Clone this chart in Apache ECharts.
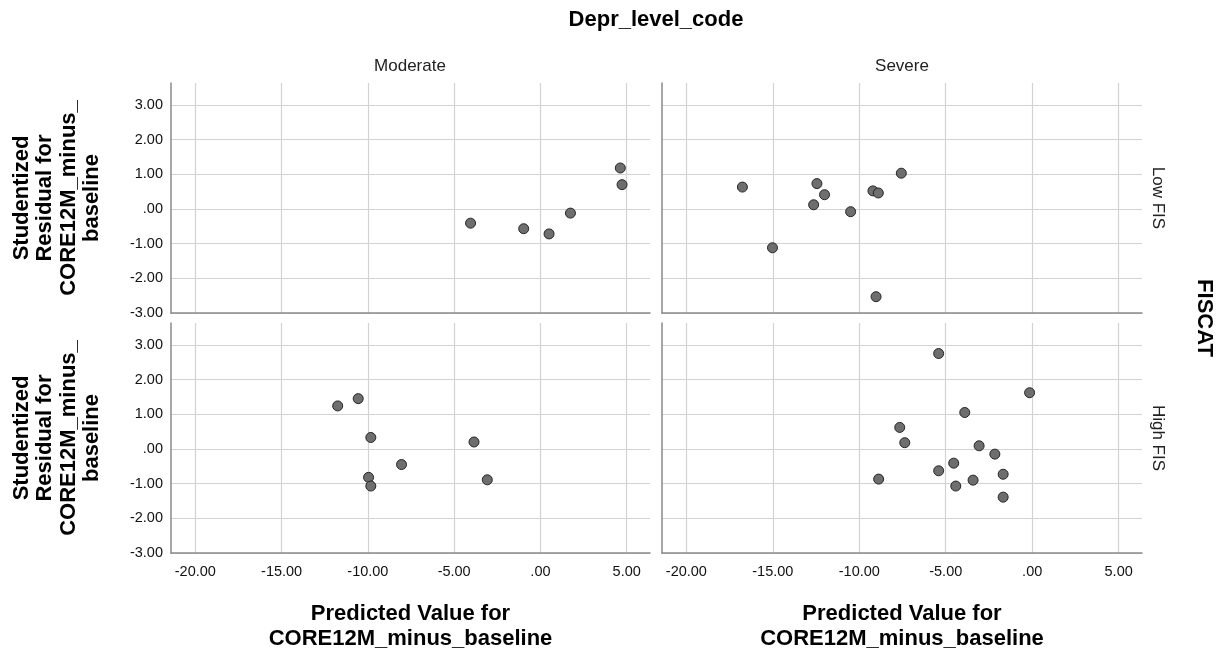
<!DOCTYPE html>
<html>
<head>
<meta charset="utf-8">
<script src="https://cdn.jsdelivr.net/npm/echarts@6/dist/echarts.min.js"></script>
<style>
  html, body { margin: 0; padding: 0; background: #ffffff; }
  #chart { width: 1224px; height: 653px; }
</style>
</head>
<body>
<div id="chart"></div>
<script>
// Facet levels
const columnLevels = ['Moderate', 'Severe'];   // Depr_level_code
const rowLevels = ['Low FIS', 'High FIS'];     // FISCAT

// Tick values
const xTickValues = [-20, -15, -10, -5, 0, 5];
const yTickValues = [-3, -2, -1, 0, 1, 2, 3];

// Predicted value / studentized residual per cell
const moderateLowPred  = [-4.05, -0.97, 0.50, 1.74, 4.63, 4.73];
const moderateLowResid = [-0.41, -0.57, -0.72, -0.12, 1.18, 0.70];

const severeLowPred  = [-16.76, -15.02, -12.45, -12.01, -12.64, -10.50, -9.21, -8.90, -7.57, -9.03];
const severeLowResid = [0.63, -1.12, 0.73, 0.41, 0.12, -0.08, 0.52, 0.46, 1.03, -2.53];

const moderateHighPred  = [-11.75, -10.56, -9.83, -3.85, -8.05, -9.96, -9.83, -3.08];
const moderateHighResid = [1.24, 1.45, 0.33, 0.20, -0.45, -0.82, -1.07, -0.89];

const severeHighPred  = [-5.41, -0.15, -3.90, -7.66, -7.37, -3.07, -2.16, -4.54, -5.41, -1.68, -8.88, -3.42, -4.42, -1.68];
const severeHighResid = [2.75, 1.62, 1.05, 0.62, 0.18, 0.09, -0.15, -0.41, -0.63, -0.73, -0.87, -0.90, -1.07, -1.39];

const X_MIN = -21.41, X_MAX = 6.35;
const Y_MIN = -3, Y_MAX = 3.63;

const FONT = "'Liberation Sans', Arial, Helvetica, sans-serif";

function fmt(v) {
  let s = Math.abs(v).toFixed(2);
  if (s.charAt(0) === '0') s = s.slice(1);
  return (v < 0 ? '-' : '') + s;
}
function zip(xs, ys) { return xs.map((x, i) => [x, ys[i]]); }

// grid layout: [row][col]
const gridBoxes = [
  [{ left: 171, top: 83, width: 479, height: 230 }, { left: 662, top: 83, width: 480, height: 230 }],
  [{ left: 171, top: 323, width: 479, height: 230 }, { left: 662, top: 323, width: 480, height: 230 }]
];

const cells = [
  { row: 0, col: 0, data: zip(moderateLowPred, moderateLowResid) },
  { row: 0, col: 1, data: zip(severeLowPred, severeLowResid) },
  { row: 1, col: 0, data: zip(moderateHighPred, moderateHighResid) },
  { row: 1, col: 1, data: zip(severeHighPred, severeHighResid) }
];

const axisLineStyle = { color: '#8a8a8a', width: 1.5 };
const splitStyle = { color: '#d2d2d2', width: 1.2 };
const yName = 'Studentized\nResidual for\nCORE12M_minus_\nbaseline';
const xName = 'Predicted Value for\nCORE12M_minus_baseline';

const grids = [], xAxes = [], yAxes = [], series = [];
cells.forEach((c, i) => {
  grids.push(Object.assign({ containLabel: false }, gridBoxes[c.row][c.col]));
  const bottomRow = c.row === 1;
  const leftCol = c.col === 0;
  xAxes.push({
    type: 'value', gridIndex: i, min: X_MIN, max: X_MAX,
    axisLine: { show: true, onZero: false, lineStyle: axisLineStyle },
    axisTick: { show: false, customValues: xTickValues },
    axisLabel: {
      show: bottomRow, customValues: xTickValues,
      formatter: fmt, margin: 11, color: '#111', fontSize: 14.5, fontFamily: FONT
    },
    splitLine: { show: true, lineStyle: splitStyle },
    name: bottomRow ? xName : '',
    nameLocation: 'middle', nameGap: 48,
    nameTextStyle: { fontSize: 22, fontWeight: 'bold', color: '#000', fontFamily: FONT, lineHeight: 25, align: 'center' }
  });
  yAxes.push({
    type: 'value', gridIndex: i, min: Y_MIN, max: Y_MAX, interval: 1,
    axisLine: { show: true, onZero: false, lineStyle: axisLineStyle },
    axisTick: { show: false, customValues: yTickValues },
    axisLabel: {
      show: leftCol, customValues: yTickValues,
      formatter: fmt, margin: 8, color: '#111', fontSize: 14.5, fontFamily: FONT
    },
    splitLine: { show: true, lineStyle: splitStyle },
    name: leftCol ? yName : '',
    nameLocation: 'middle', nameGap: 67, nameRotate: 90,
    nameTextStyle: { fontSize: 22, fontWeight: 'bold', color: '#000', fontFamily: FONT, lineHeight: 23.5, align: 'center' }
  });
  series.push({
    type: 'scatter', xAxisIndex: i, yAxisIndex: i,
    data: c.data, symbol: 'circle', symbolSize: 10,
    itemStyle: { color: '#6e6e6e', borderColor: '#262626', borderWidth: 1, opacity: 1 },
    emphasis: { disabled: true },
    silent: true
  });
});

function textEl(text, x, y, size, weight, rotation) {
  return {
    type: 'text', x: x, y: y, rotation: rotation || 0, silent: true,
    style: {
      text: text, fill: weight === 'bold' ? '#000' : '#222',
      fontSize: size, fontWeight: weight, fontFamily: FONT,
      align: 'center', verticalAlign: 'middle'
    }
  };
}

const graphics = [
  textEl('Depr_level_code', 656, 20, 22, 'bold'),
  textEl(columnLevels[0], 410, 66, 17, 'normal'),
  textEl(columnLevels[1], 902, 66, 17, 'normal'),
  textEl(rowLevels[0], 1158, 198, 17, 'normal', -Math.PI / 2),
  textEl(rowLevels[1], 1158, 438, 17, 'normal', -Math.PI / 2),
  textEl('FISCAT', 1204, 318, 22, 'bold', -Math.PI / 2)
];

const chart = echarts.init(document.getElementById('chart'), null, { renderer: 'canvas' });
chart.setOption({
  animation: false,
  backgroundColor: '#ffffff',
  grid: grids,
  xAxis: xAxes,
  yAxis: yAxes,
  series: series,
  graphic: graphics
});
</script>
</body>
</html>
